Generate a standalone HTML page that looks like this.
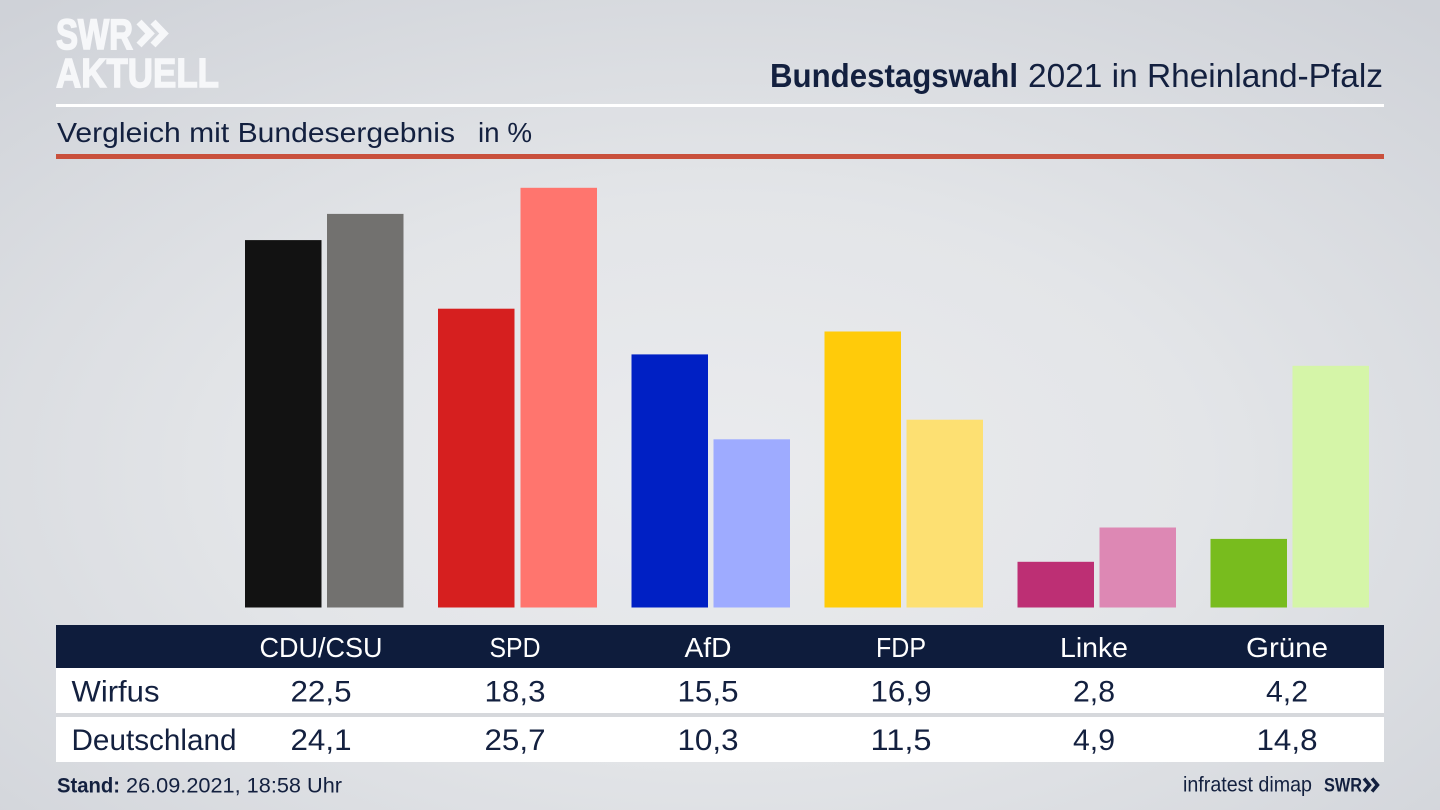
<!DOCTYPE html>
<html><head><meta charset="utf-8"><style>
html,body{margin:0;padding:0;width:1440px;height:810px;overflow:hidden}
svg{display:block}
text{font-family:"Liberation Sans",sans-serif}
</style></head><body>
<svg width="1440" height="810" viewBox="0 0 1440 810" xmlns="http://www.w3.org/2000/svg">
<defs>
<radialGradient id="bg" cx="50%" cy="58%" r="75%" fx="50%" fy="58%">
<stop offset="0" stop-color="#eaebee"/>
<stop offset="0.45" stop-color="#e3e5e8"/>
<stop offset="1" stop-color="#cfd2d8"/>
</radialGradient>
</defs>
<rect width="1440" height="810" fill="url(#bg)"/>

<!-- Logo -->
<text x="56" y="49" font-size="43" font-weight="bold" fill="#f6f7f9" stroke="#f6f7f9" stroke-width="1.6" textLength="77" lengthAdjust="spacingAndGlyphs">SWR</text>
<polyline points="139,22 150,33.5 139,45" fill="none" stroke="#f6f7f9" stroke-width="7"/>
<polyline points="153,22 164,33.5 153,45" fill="none" stroke="#f6f7f9" stroke-width="7"/>
<text x="56" y="87" font-size="41" font-weight="bold" fill="#f6f7f9" stroke="#f6f7f9" stroke-width="1.4" textLength="163" lengthAdjust="spacingAndGlyphs">AKTUELL</text>

<!-- Title -->
<text x="770" y="87" font-size="33" font-weight="bold" fill="#13203f" textLength="248" lengthAdjust="spacingAndGlyphs">Bundestagswahl</text>
<text x="1028" y="87" font-size="33" fill="#13203f" textLength="355" lengthAdjust="spacingAndGlyphs">2021 in Rheinland-Pfalz</text>
<rect x="56" y="104" width="1328" height="3" fill="#ffffff"/>

<!-- Subtitle -->
<text x="57" y="142" font-size="28" fill="#13203f" textLength="398" lengthAdjust="spacingAndGlyphs">Vergleich mit Bundesergebnis</text>
<text x="478" y="142" font-size="28" fill="#13203f" textLength="54" lengthAdjust="spacingAndGlyphs">in %</text>
<rect x="56" y="154" width="1328" height="5" fill="#c9503c"/>

<!-- Bars -->
<rect x="245" y="240.1" width="76.5" height="367.4" fill="#121212"/>
<rect x="327" y="213.9" width="76.5" height="393.6" fill="#72716f"/>
<rect x="438" y="308.7" width="76.5" height="298.8" fill="#d61f1f"/>
<rect x="520.5" y="187.8" width="76.5" height="419.7" fill="#ff756e"/>
<rect x="631.5" y="354.4" width="76.5" height="253.1" fill="#0020c4"/>
<rect x="713.5" y="439.3" width="76.5" height="168.2" fill="#9eabff"/>
<rect x="824.5" y="331.5" width="76.5" height="276.0" fill="#ffcb0a"/>
<rect x="906.5" y="419.7" width="76.5" height="187.8" fill="#fde072"/>
<rect x="1017.5" y="561.8" width="76.5" height="45.7" fill="#bd2f74"/>
<rect x="1099.5" y="527.5" width="76.5" height="80.0" fill="#dd88b4"/>
<rect x="1210.5" y="538.9" width="76.5" height="68.6" fill="#78bc1e"/>
<rect x="1292.5" y="365.8" width="76.5" height="241.7" fill="#d5f5a8"/>

<!-- Table -->
<rect x="56" y="625" width="1328" height="43" fill="#0e1c3c"/>
<rect x="56" y="668" width="1328" height="45" fill="#ffffff"/>
<rect x="56" y="713" width="1328" height="4" fill="#d6d8dc"/>
<rect x="56" y="717" width="1328" height="45" fill="#ffffff"/>

<g font-size="28" fill="#ffffff" text-anchor="middle">
<text x="321" y="657" textLength="123" lengthAdjust="spacingAndGlyphs">CDU/CSU</text>
<text x="515" y="657" textLength="51" lengthAdjust="spacingAndGlyphs">SPD</text>
<text x="708" y="657" textLength="47" lengthAdjust="spacingAndGlyphs">AfD</text>
<text x="901" y="657" textLength="50" lengthAdjust="spacingAndGlyphs">FDP</text>
<text x="1094" y="657" textLength="68" lengthAdjust="spacingAndGlyphs">Linke</text>
<text x="1287" y="657" textLength="82" lengthAdjust="spacingAndGlyphs">Grüne</text>
</g>

<g font-size="30" fill="#13203f">
<text x="71.5" y="701.5" textLength="88" lengthAdjust="spacingAndGlyphs">Wirfus</text>
<text x="71.5" y="750" textLength="165" lengthAdjust="spacingAndGlyphs">Deutschland</text>
</g>
<g font-size="30" fill="#13203f" text-anchor="middle">
<text x="321" y="701.5" textLength="61" lengthAdjust="spacingAndGlyphs">22,5</text>
<text x="515" y="701.5" textLength="61" lengthAdjust="spacingAndGlyphs">18,3</text>
<text x="708" y="701.5" textLength="61" lengthAdjust="spacingAndGlyphs">15,5</text>
<text x="901" y="701.5" textLength="61" lengthAdjust="spacingAndGlyphs">16,9</text>
<text x="1094" y="701.5" textLength="42" lengthAdjust="spacingAndGlyphs">2,8</text>
<text x="1287" y="701.5" textLength="42" lengthAdjust="spacingAndGlyphs">4,2</text>
<text x="321" y="750" textLength="61" lengthAdjust="spacingAndGlyphs">24,1</text>
<text x="515" y="750" textLength="61" lengthAdjust="spacingAndGlyphs">25,7</text>
<text x="708" y="750" textLength="61" lengthAdjust="spacingAndGlyphs">10,3</text>
<text x="901" y="750" textLength="61" lengthAdjust="spacingAndGlyphs">11,5</text>
<text x="1094" y="750" textLength="42" lengthAdjust="spacingAndGlyphs">4,9</text>
<text x="1287" y="750" textLength="61" lengthAdjust="spacingAndGlyphs">14,8</text>
</g>

<!-- Footer -->
<text x="57" y="792.5" font-size="21" font-weight="bold" fill="#13203f" textLength="63" lengthAdjust="spacingAndGlyphs">Stand:</text>
<text x="126" y="792.5" font-size="21" fill="#13203f" textLength="216" lengthAdjust="spacingAndGlyphs">26.09.2021, 18:58 Uhr</text>
<text x="1183" y="791.5" font-size="21" fill="#13203f" textLength="129" lengthAdjust="spacingAndGlyphs">infratest dimap</text>
<text x="1324" y="791.5" font-size="19" font-weight="bold" fill="#13203f" textLength="38" lengthAdjust="spacingAndGlyphs">SWR</text>
<polyline points="1364,778.5 1369.5,785 1364,791.5" fill="none" stroke="#13203f" stroke-width="3.5"/>
<polyline points="1372,778.5 1377.5,785 1372,791.5" fill="none" stroke="#13203f" stroke-width="3.5"/>
</svg>
</body></html>
